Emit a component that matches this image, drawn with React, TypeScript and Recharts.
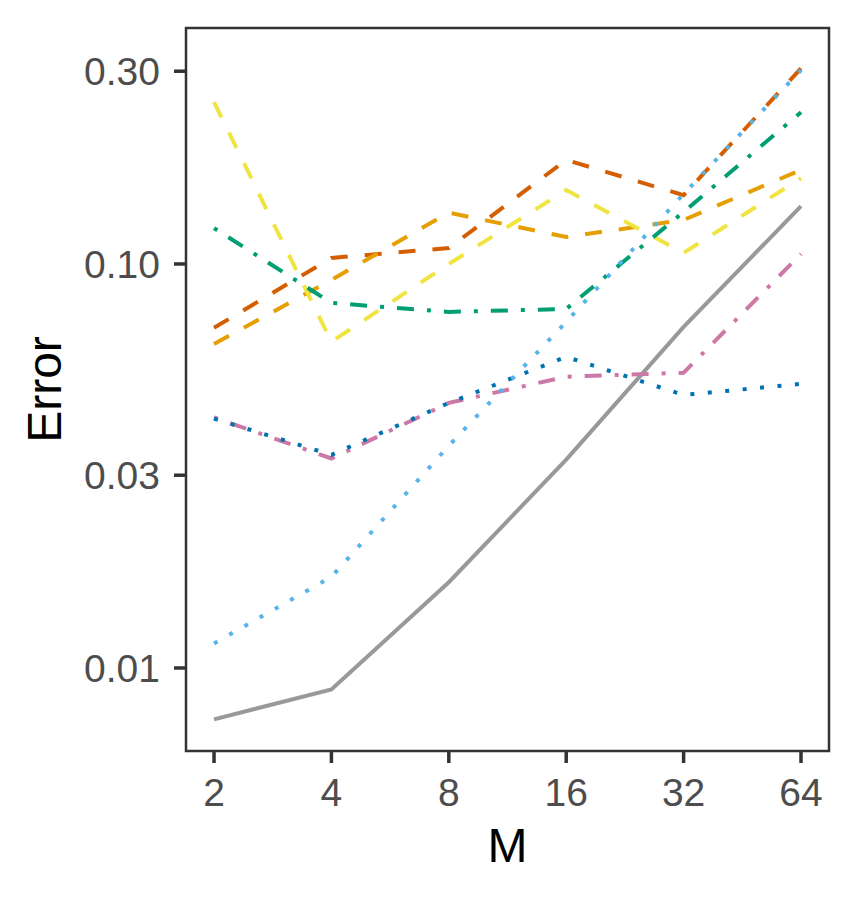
import { LineChart, Line, XAxis, YAxis, Label, ReferenceArea } from "recharts";

const mValues = [2, 4, 8, 16, 32, 64];
const yTicks = [0.01, 0.03, 0.1, 0.3];

const grey = [0.00746, 0.00885, 0.0163, 0.0328, 0.0699, 0.139];
const skyBlue = [0.0115, 0.0168, 0.0355, 0.0719, 0.149, 0.302];
const vermillion = [0.0695, 0.1035, 0.1095, 0.181, 0.148, 0.305];
const orange = [0.0634, 0.0913, 0.134, 0.1166, 0.1285, 0.171];
const yellow = [0.2515, 0.0642, 0.1, 0.1524, 0.1065, 0.163];
const green = [0.1227, 0.0801, 0.0761, 0.0774, 0.1345, 0.2375];
const blue = [0.0414, 0.0337, 0.0453, 0.0589, 0.0474, 0.0505];
const pink = [0.0417, 0.033, 0.0453, 0.0526, 0.0538, 0.1059];

const series = [
  { key: "grey", values: grey, color: "#999999", dash: undefined },
  { key: "vermillion", values: vermillion, color: "#D55E00", dash: "17 17" },
  { key: "orange", values: orange, color: "#E69F00", dash: "17 17" },
  { key: "yellow", values: yellow, color: "#F0E442", dash: "17 17" },
  { key: "green", values: green, color: "#009E73", dash: "4 13 17 13" },
  { key: "pink", values: pink, color: "#CC79A7", dash: "4 13 17 13" },
  { key: "blue", values: blue, color: "#0072B2", dash: "4 13.5" },
  { key: "skyBlue", values: skyBlue, color: "#56B4E9", dash: "4 13.5" },
];

const data = mValues.map((m, i) => {
  const row: Record<string, number> = { M: m };
  series.forEach((s) => {
    row[s.key] = s.values[i];
  });
  return row;
});

const xDomain: [number, number] = [1.695, 75.5];
const yDomain: [number, number] = [0.00623, 0.3838];

const FONT = "'Liberation Sans', Arial, sans-serif";
const tickStyle = { fontSize: 39, fill: "#4D4D4D", fontFamily: FONT };

export default function App() {
  return (
    <LineChart
      width={847}
      height={892}
      data={data}
      margin={{ top: 20, right: 26, left: 0, bottom: 0 }}
    >
      <XAxis
        dataKey="M"
        type="number"
        scale="log"
        domain={xDomain}
        allowDataOverflow
        ticks={mValues}
        interval={0}
        height={149}
        tick={tickStyle}
        tickSize={12}
        tickMargin={15}
        axisLine={false}
        tickLine={{ stroke: "#333333", strokeWidth: 3.5 }}
      >
        <Label
          content={(props: any) => {
            const vb = props.viewBox || { x: 178, y: 743, width: 643 };
            return (
              <text
                x={vb.x + vb.width / 2}
                y={vb.y + 111}
                textAnchor="middle"
                fontSize={48}
                fontFamily={FONT}
                fill="#000000"
              >
                M
              </text>
            );
          }}
        />
      </XAxis>
      <YAxis
        type="number"
        scale="log"
        domain={yDomain}
        allowDataOverflow
        ticks={yTicks}
        interval={0}
        width={178}
        tick={tickStyle}
        tickSize={12}
        tickMargin={14}
        tickFormatter={(v: number) => v.toFixed(2)}
        axisLine={false}
        tickLine={{ stroke: "#333333", strokeWidth: 3.5 }}
      >
        <Label
          content={(props: any) => {
            const vb = props.viewBox || { x: 0, y: 20, height: 723 };
            const cx = vb.x + 53;
            const cy = vb.y + vb.height / 2;
            return (
              <text
                x={cx}
                y={cy}
                transform={`rotate(-90, ${cx}, ${cy})`}
                textAnchor="middle"
                fontSize={48}
                fontFamily={FONT}
                fill="#000000"
              >
                Error
              </text>
            );
          }}
        />
      </YAxis>
      {series.map((s) => (
        <Line
          key={s.key}
          dataKey={s.key}
          stroke={s.color}
          strokeWidth={4}
          strokeDasharray={s.dash}
          strokeLinecap="butt"
          dot={false}
          activeDot={false}
          isAnimationActive={false}
        />
      ))}
      <ReferenceArea
        x1={xDomain[0]}
        x2={xDomain[1]}
        y1={yDomain[0]}
        y2={yDomain[1]}
        fill="none"
        fillOpacity={0}
        stroke="#333333"
        strokeWidth={2.5}
        ifOverflow="visible"
      />
    </LineChart>
  );
}
